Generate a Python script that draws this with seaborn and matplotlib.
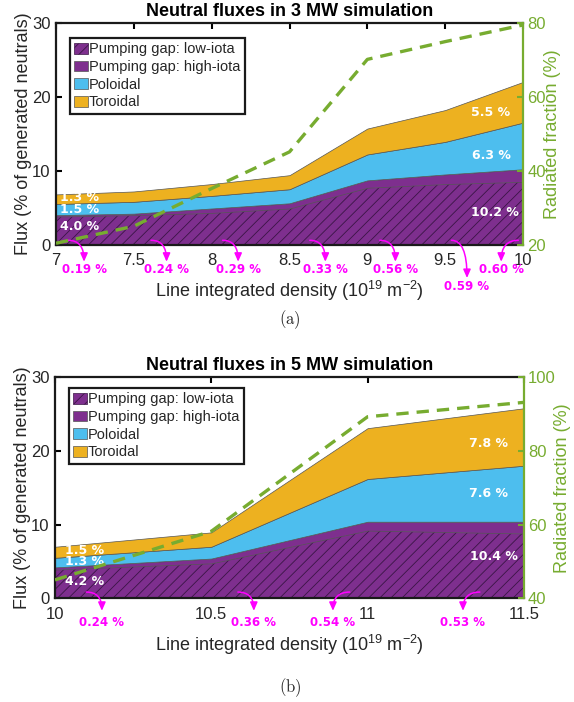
import matplotlib
matplotlib.use("Agg")
import matplotlib.pyplot as plt
from matplotlib.patches import Patch
import seaborn as sns

# ---------------- data: 3 MW density scan ----------------
dens_3mw = [7.0, 7.5, 8.0, 8.5, 9.0, 9.5, 10.0]
low_iota_3mw = [3.8, 4.0, 4.3, 4.9, 7.7, 8.2, 8.5]
high_iota_3mw = [0.2, 0.2, 0.6, 0.7, 1.0, 1.3, 1.7]
poloidal_3mw = [1.5, 1.6, 1.7, 1.9, 3.5, 4.4, 6.3]
toroidal_3mw = [1.3, 1.4, 1.6, 1.9, 3.5, 4.3, 5.5]
radfrac_3mw = [20.4, 25.0, 35.2, 45.1, 70.1, 74.9, 79.4]
pct_notes_3mw = [0.19, 0.24, 0.29, 0.33, 0.56, 0.59, 0.60]

# ---------------- data: 5 MW density scan ----------------
dens_5mw = [10.0, 10.5, 11.0, 11.5]
low_iota_5mw = [3.9, 4.75, 9.2, 8.8]
high_iota_5mw = [0.3, 0.65, 1.2, 1.6]
poloidal_5mw = [1.3, 1.6, 5.8, 7.6]
toroidal_5mw = [1.5, 1.95, 6.9, 7.8]
radfrac_5mw = [45.0, 58.2, 89.3, 93.2]
pct_notes_5mw = [0.24, 0.36, 0.54, 0.53]

series_names = ["Pumping gap: low-iota", "Pumping gap: high-iota", "Poloidal", "Toroidal"]

# ---------------- style ----------------
PURPLE = "#7E2F8E"
BLUE = "#4DBEEE"
ORANGE = "#EDB120"
GREEN = "#77AC30"
MAGENTA = "#FF00FF"
EDGE = "#555555"
HATCH = "#3A1545"
TXT = "#262626"

sns.set_theme(style="white")
plt.rcParams["font.family"] = ["Liberation Sans", "DejaVu Sans"]
plt.rcParams["mathtext.fontset"] = "custom"
plt.rcParams["mathtext.rm"] = "Liberation Sans"
plt.rcParams["mathtext.it"] = "Liberation Sans:italic"
plt.rcParams["hatch.linewidth"] = 0.6

fig = plt.figure(figsize=(5.74, 7.02), dpi=100)
ax_a = fig.add_axes([0.0976, 0.6514, 0.8136, 0.3162])
ax_b = fig.add_axes([0.0958, 0.1477, 0.8170, 0.3148])


def draw_panel(ax, dens, low, high, pol, tor, rad, notes, title, xlim, xticks,
               rlim, rticks, left_lab_x, left_lab_y, right_lab_x, right_lab_y,
               note_layout, legend_anchor):
    b1 = list(low)
    b2 = [a + b for a, b in zip(b1, high)]
    b3 = [a + b for a, b in zip(b2, pol)]
    b4 = [a + b for a, b in zip(b3, tor)]

    ax.fill_between(dens, 0, b1, facecolor=PURPLE, edgecolor=HATCH, hatch="///",
                    linewidth=0, zorder=1)
    ax.fill_between(dens, b1, b2, facecolor=PURPLE, edgecolor=EDGE, linewidth=0.5, zorder=2)
    ax.fill_between(dens, b2, b3, facecolor=BLUE, edgecolor=EDGE, linewidth=0.5, zorder=2)
    ax.fill_between(dens, b3, b4, facecolor=ORANGE, edgecolor=EDGE, linewidth=0.5, zorder=2)

    ax.set_xlim(*xlim)
    ax.set_ylim(0, 30)
    ax.set_xticks(xticks)
    ax.set_xticklabels([f"{t:g}" for t in xticks])
    ax.set_yticks([0, 10, 20, 30])
    ax.set_title(title, fontsize=13, fontweight="bold", pad=5, color="black")
    ax.set_xlabel("Line integrated density (10$^{19}$ m$^{-2}$)", fontsize=13,
                  color=TXT, labelpad=8)
    ax.set_ylabel("Flux (% of generated neutrals)", fontsize=13, color=TXT, labelpad=0)
    ax.tick_params(axis="both", direction="in", length=4, width=1.5, labelsize=12,
                   labelcolor=TXT, color="black", top=True, right=False)
    ax.tick_params(axis="x", pad=6)
    ax.tick_params(axis="y", pad=4)
    for side in ("left", "top", "bottom"):
        ax.spines[side].set_visible(True)
        ax.spines[side].set_color("#1a1a1a")
        ax.spines[side].set_linewidth(1.6)
    ax.spines["right"].set_visible(False)

    # value labels inside the stacked areas
    left_vals = [b2[0], pol[0], tor[0]]
    right_vals = [b2[-1], pol[-1], tor[-1]]
    for v, y in zip(left_vals, left_lab_y):
        ax.text(left_lab_x, y, f"{v:.1f} %", color="white", fontsize=9,
                fontweight="bold", family="DejaVu Sans", ha="left", va="center", zorder=5)
    for v, x, y in zip(right_vals, right_lab_x, right_lab_y):
        ax.text(x, y, f"{v:.1f} %", color="white", fontsize=9,
                fontweight="bold", family="DejaVu Sans", ha="right", va="center", zorder=5)

    # high-iota share annotations below the axis
    for v, (sx, sy, tx, ty, ly) in zip(notes, note_layout):
        ax.annotate("", xy=(tx, ty), xytext=(sx, sy), xycoords="data",
                    annotation_clip=False,
                    arrowprops=dict(arrowstyle="-|>,head_length=0.5,head_width=0.22",
                                    color=MAGENTA, lw=1.1, shrinkA=0, shrinkB=0,
                                    mutation_scale=10,
                                    connectionstyle="angle3,angleA=0,angleB=90"))
        ax.text(tx, ly, f"{v:.2f} %", color=MAGENTA, fontsize=8.5, fontweight="bold",
                family="DejaVu Sans", ha="center", va="center", clip_on=False)

    handles = [
        Patch(facecolor=PURPLE, edgecolor=HATCH, hatch="///", linewidth=0.5),
        Patch(facecolor=PURPLE, edgecolor=EDGE, linewidth=0.5),
        Patch(facecolor=BLUE, edgecolor=EDGE, linewidth=0.5),
        Patch(facecolor=ORANGE, edgecolor=EDGE, linewidth=0.5),
    ]
    leg = ax.legend(handles, series_names, loc="upper left", bbox_to_anchor=legend_anchor,
                    borderaxespad=0, fontsize=10.5, frameon=True, fancybox=False,
                    handlelength=0.9, handleheight=0.75, handletextpad=0.1,
                    labelspacing=0.25, borderpad=0.3, framealpha=1)
    leg.get_frame().set_edgecolor("#1a1a1a")
    leg.get_frame().set_linewidth(1.6)
    for t in leg.get_texts():
        t.set_color(TXT)

    ax2 = ax.twinx()
    sns.lineplot(x=dens, y=rad, ax=ax2, color=GREEN, linewidth=2.4, legend=False)
    ax2.lines[0].set_dashes([3.7, 2.4])
    ax2.set_ylim(*rlim)
    ax2.set_yticks(rticks)
    ax2.set_ylabel("Radiated fraction (%)", fontsize=13, color=GREEN, labelpad=-1)
    ax2.tick_params(axis="y", direction="in", length=4, width=1.5, labelsize=12,
                    colors=GREEN, pad=3)
    for side in ("left", "top", "bottom"):
        ax2.spines[side].set_visible(False)
    ax2.spines["right"].set_visible(True)
    ax2.spines["right"].set_color(GREEN)
    ax2.spines["right"].set_linewidth(1.6)
    ax2.grid(False)
    ax.grid(False)


# layout of the below-axis notes: (start x, start y, tip x, tip y, label y)
notes_layout_3mw = [
    (7.077, 0.6, 7.18, -2.3, -3.4),
    (7.61, 0.6, 7.71, -2.3, -3.4),
    (8.07, 0.6, 8.17, -2.3, -3.4),
    (8.63, 0.6, 8.73, -2.3, -3.4),
    (9.08, 0.6, 9.18, -2.3, -3.4),
    (9.54, 0.6, 9.64, -4.5, -5.7),
    (9.97, 0.6, 9.86, -2.3, -3.4),
]
notes_layout_5mw = [
    (10.10, 0.85, 10.15, -1.7, -3.35),
    (10.585, 0.85, 10.636, -1.7, -3.35),
    (10.943, 0.85, 10.889, -1.7, -3.35),
    (11.359, 0.85, 11.305, -1.7, -3.35),
]

draw_panel(ax_a, dens_3mw, low_iota_3mw, high_iota_3mw, poloidal_3mw, toroidal_3mw,
           radfrac_3mw, pct_notes_3mw, "Neutral fluxes in 3 MW simulation",
           (7, 10), [7, 7.5, 8, 8.5, 9, 9.5, 10], (20, 80), [20, 40, 60, 80],
           7.026, [2.4, 4.8, 6.35], [9.974, 9.92, 9.92], [4.3, 12.1, 17.9],
           notes_layout_3mw, (0.03, 0.931))

draw_panel(ax_b, dens_5mw, low_iota_5mw, high_iota_5mw, poloidal_5mw, toroidal_5mw,
           radfrac_5mw, pct_notes_5mw, "Neutral fluxes in 5 MW simulation",
           (10, 11.5), [10, 10.5, 11, 11.5], (40, 100), [40, 60, 80, 100],
           10.032, [2.25, 4.97, 6.46], [11.48, 11.449, 11.449], [5.64, 14.25, 21.0],
           notes_layout_5mw, (0.03, 0.952))

fig.text(0.505, 1 - 320 / 702, r"$\mathrm{(a)}$", math_fontfamily="cm", fontsize=12,
         ha="center", va="center", color=TXT)
fig.text(0.505, 1 - 688 / 702, r"$\mathrm{(b)}$", math_fontfamily="cm", fontsize=12,
         ha="center", va="center", color=TXT)

fig.savefig("out.png", dpi=100, facecolor="white")
